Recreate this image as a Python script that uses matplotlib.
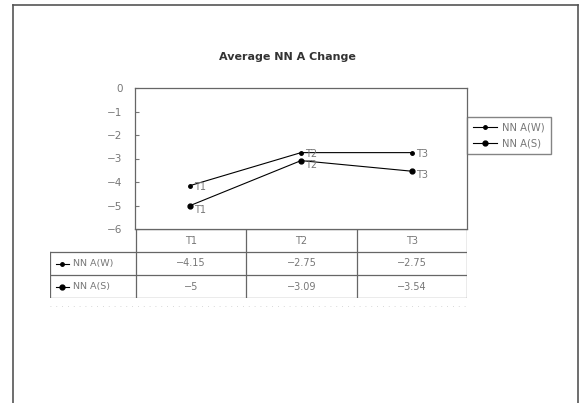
import matplotlib
matplotlib.use("Agg")
import matplotlib.pyplot as plt
from matplotlib.lines import Line2D

# datos
categorias = ["T1", "T2", "T3"]
serie_w = [-4.15, -2.75, -2.75]
serie_s = [-5, -3.09, -3.54]
nombres = ["NN A(W)", "NN A(S)"]
titulo = "Average NN A Change"
y_ticks = [0, -1, -2, -3, -4, -5, -6]

W, H = 580, 403
fig = plt.figure(figsize=(W / 100, H / 100), dpi=100)
fig.patch.set_facecolor("white")

def fx(px):
    return px / W

def fy(py):
    return 1 - py / H

# marco exterior
for xs, ys in [([13, 13], [5, H]), ([13, 578], [5, 5]), ([578, 578], [5, H])]:
    fig.add_artist(Line2D([fx(x) for x in xs], [fy(y) for y in ys], color="#555555", lw=1.2))

gris = "#777777"

# titulo
fig.text(fx(287), fy(57), titulo, ha="center", va="center", fontsize=8, fontweight="bold", color="#333333")

# area del grafico
ax = fig.add_axes([fx(135), fy(229), fx(467) - fx(135), fy(88) - fy(229)])
x = [0.5, 1.5, 2.5]
ax.plot(x, serie_w, color="black", lw=0.8, marker="o", ms=2.5, label=nombres[0])
ax.plot(x, serie_s, color="black", lw=0.8, marker="o", ms=3.5, label=nombres[1])
for xi, c, v in zip(x, categorias, serie_w):
    ax.annotate(c, (xi, v), xytext=(3, -1), textcoords="offset points", fontsize=7, color=gris, va="center")
for xi, c, v in zip(x, categorias, serie_s):
    ax.annotate(c, (xi, v), xytext=(3, -3), textcoords="offset points", fontsize=7, color=gris, va="center")
ax.set_xlim(0, 3)
ax.set_ylim(-6, 0)
ax.set_xticks([])
ax.set_yticks(y_ticks)
ax.set_yticklabels(["0" if t == 0 else "\u2212%d" % -t for t in y_ticks], color=gris, fontsize=7.5)
ax.tick_params(axis="y", direction="in", length=3, color=gris, pad=9)
for s in ax.spines.values():
    s.set_color("#666666")
    s.set_linewidth(0.9)

# leyenda
fig.legend(loc="upper left", bbox_to_anchor=(fx(467), fy(117)), fontsize=7.2, frameon=True,
           fancybox=False, edgecolor="#666666", borderaxespad=0, handlelength=2.4,
           labelcolor=gris, borderpad=0.55, labelspacing=0.55, handletextpad=0.6)

# tabla de datos
tx = fig.add_axes([fx(50), fy(298), fx(467) - fx(50), fy(229) - fy(298)])
left = -0.78
tx.set_xlim(left, 3)
tx.set_ylim(3, 0)
tx.axis("off")
lc = "#666666"
tx.plot([0, 3], [0, 0], color=lc, lw=0.9)
for yy in [1, 2, 3]:
    tx.plot([left, 3], [yy, yy], color=lc, lw=0.9)
for xx in [0, 1, 2, 3]:
    tx.plot([xx, xx], [0, 3], color=lc, lw=0.9)
tx.plot([left, left], [1, 3], color=lc, lw=0.9)
for i, c in enumerate(categorias):
    tx.text(i + 0.5, 0.5, c, ha="center", va="center", fontsize=7, color=gris)
for r, (nombre, serie, ms) in enumerate([(nombres[0], serie_w, 2.5), (nombres[1], serie_s, 3.5)]):
    yy = r + 1.5
    tx.plot([left + 0.05, left + 0.11, left + 0.17], [yy, yy, yy], color="black", lw=0.8,
            marker="o", ms=ms, markevery=[1])
    tx.text(left + 0.21, yy, nombre, ha="left", va="center", fontsize=6.8, color=gris)
    for i, v in enumerate(serie):
        txt = ("%g" % v).replace("-", "\u2212")
        tx.text(i + 0.5, yy, txt, ha="center", va="center", fontsize=7, color=gris)

# linea punteada bajo la tabla
fig.add_artist(Line2D([fx(50), fx(467)], [fy(306), fy(306)], color="#cccccc", lw=0.6, ls=(0, (1, 6))))

fig.savefig("out.png", dpi=100)
